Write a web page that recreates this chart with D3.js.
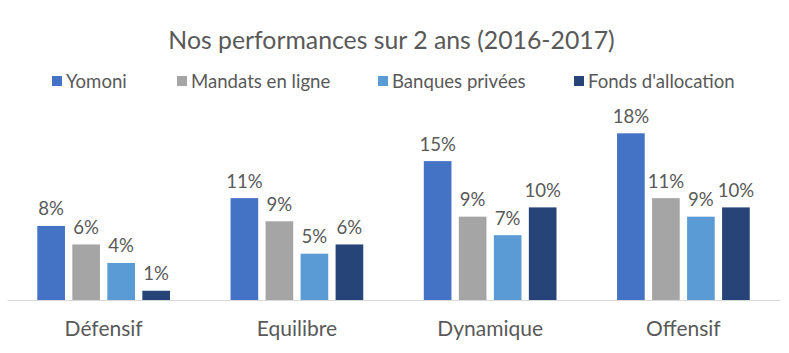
<!DOCTYPE html>
<html>
<head>
<meta charset="utf-8">
<script src="https://cdn.jsdelivr.net/npm/d3@7"></script>
<style>
  html, body { margin: 0; padding: 0; background: #fff; }
  svg { display: block; }
  text { font-family: Lato, "Open Sans", sans-serif; fill: #595959; }
</style>
</head>
<body>
<svg id="chart" width="789" height="353"></svg>
<script>
const title = "Nos performances sur 2 ans (2016-2017)";
const categories = ["Défensif", "Equilibre", "Dynamique", "Offensif"];
const seriesNames = ["Yomoni", "Mandats en ligne", "Banques privées", "Fonds d'allocation"];
const yomoni = [8, 11, 15, 18];
const mandats = [6, 8.5, 9, 11];
const banques = [4, 5, 7, 9];
const fonds = [1, 6, 10, 10];
const seriesValues = [yomoni, mandats, banques, fonds];
const colors = ["#4472C4", "#A5A5A5", "#5B9BD5", "#264478"];

const svg = d3.select("#chart");

const x0 = d3.scaleBand().domain(categories).range([7, 780]).paddingInner(0).paddingOuter(0);
const x1 = d3.scaleBand().domain(seriesNames).range([30.3, 163]).paddingInner(0.21).paddingOuter(0);
const y = d3.scaleLinear().domain([0, 20]).range([300, 114.8]);
const color = d3.scaleOrdinal().domain(seriesNames).range(colors);

// title
svg.append("text")
  .attr("x", 391.5).attr("y", 49)
  .attr("text-anchor", "middle")
  .attr("font-size", 24.8)
  .text(title);

// legend
const legendX = [52, 177, 378, 574];
const leg = svg.append("g");
seriesNames.forEach((s, i) => {
  const g = leg.append("g").attr("transform", `translate(${legendX[i]},0)`);
  g.append("rect").attr("x", 0).attr("y", 76).attr("width", 10).attr("height", 10).attr("fill", color(s));
  g.append("text").attr("x", 14).attr("y", 88).attr("font-size", 18.6).text(s);
});

// bars
const data = [];
categories.forEach((c, ci) => {
  seriesNames.forEach((s, si) => {
    data.push({ cat: c, series: s, value: seriesValues[si][ci] });
  });
});

const groups = svg.append("g").selectAll("g")
  .data(categories).join("g")
  .attr("transform", d => `translate(${x0(d)},0)`);

groups.selectAll("rect")
  .data(c => data.filter(d => d.cat === c))
  .join("rect")
  .attr("x", d => x1(d.series))
  .attr("y", d => y(d.value))
  .attr("width", x1.bandwidth())
  .attr("height", d => y(0) - y(d.value))
  .attr("fill", d => color(d.series));

groups.selectAll("text.lbl")
  .data(c => data.filter(d => d.cat === c))
  .join("text")
  .attr("class", "lbl")
  .attr("x", d => x1(d.series) + x1.bandwidth() / 2)
  .attr("y", d => y(d.value) - 10.5)
  .attr("text-anchor", "middle")
  .attr("font-size", 18.6)
  .text(d => Math.round(d.value) + "%");

// axis
const axis = svg.append("g")
  .attr("transform", `translate(0,${y(0)})`)
  .call(d3.axisBottom(x0).tickSize(0).tickPadding(0));
axis.select(".domain").attr("stroke", "#D9D9D9").attr("stroke-width", 1);
axis.selectAll(".tick text")
  .attr("dy", 0).attr("y", 36)
  .attr("font-size", 21)
  .attr("font-family", "Lato, 'Open Sans', sans-serif")
  .attr("fill", "#595959")
  .style("fill", "#595959");
</script>
</body>
</html>
